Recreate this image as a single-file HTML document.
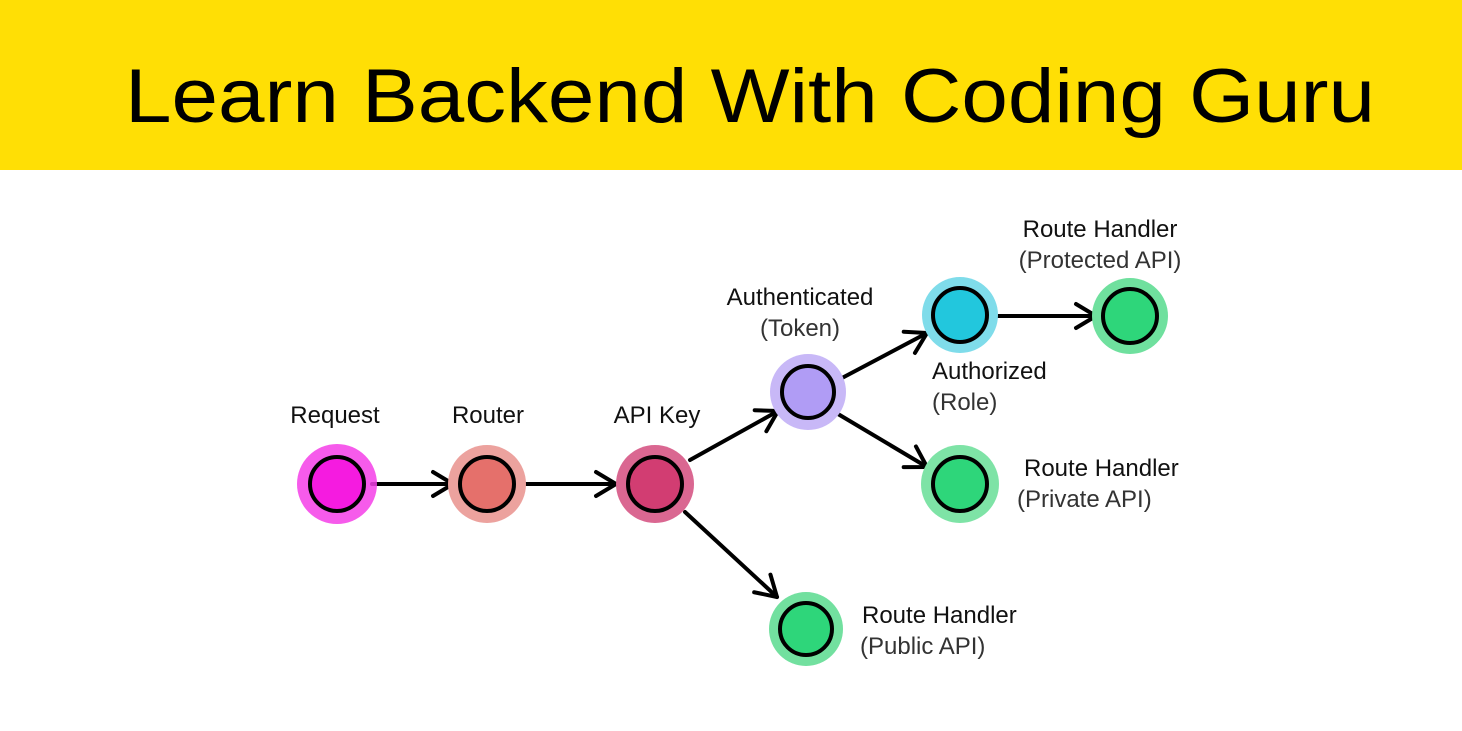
<!DOCTYPE html>
<html><head><style>
html,body{margin:0;padding:0;background:#fff;}
svg{display:block;}
text{font-family:"Liberation Sans",sans-serif;}
</style></head><body>
<svg width="1462" height="731" viewBox="0 0 1462 731" xmlns="http://www.w3.org/2000/svg">
<defs>
<marker id="a" viewBox="0 0 30 30" refX="26" refY="15" markerWidth="30" markerHeight="30" markerUnits="userSpaceOnUse" orient="auto">
<path d="M6,3 L26,15 L6,27" fill="none" stroke="#000" stroke-width="4" stroke-linecap="round" stroke-linejoin="round"/>
</marker>
</defs>
<rect x="0" y="0" width="1462" height="170" fill="#FFDF05"/>
<text x="750" y="122" font-size="76" text-anchor="middle" fill="#000" textLength="1250" lengthAdjust="spacingAndGlyphs">Learn Backend With Coding Guru</text>

<g stroke="#000" stroke-width="4" stroke-linecap="round" fill="none">
<line x1="372" y1="484" x2="453" y2="484" marker-end="url(#a)"/>
<line x1="523" y1="484" x2="616" y2="484" marker-end="url(#a)"/>
<line x1="690" y1="460" x2="778" y2="411" marker-end="url(#a)"/>
<line x1="685" y1="512" x2="777" y2="597" marker-end="url(#a)"/>
<line x1="842" y1="378" x2="927" y2="333" marker-end="url(#a)"/>
<line x1="838" y1="414" x2="927" y2="467" marker-end="url(#a)"/>
<line x1="995" y1="316" x2="1096" y2="316" marker-end="url(#a)"/>
</g>

<g stroke="#000" stroke-width="4">
<circle cx="337" cy="484" r="40" fill="#f53ee8" opacity="0.85" stroke="none"/>
<circle cx="337" cy="484" r="27" fill="#f51be0"/>
<circle cx="487" cy="484" r="39" fill="#eca29e" stroke="none"/>
<circle cx="487" cy="484" r="27" fill="#e5706b"/>
<circle cx="655" cy="484" r="39" fill="#da6791" stroke="none"/>
<circle cx="655" cy="484" r="27" fill="#d23d72"/>
<circle cx="808" cy="392" r="38" fill="#c8b8f7" stroke="none"/>
<circle cx="808" cy="392" r="26" fill="#b09cf5"/>
<circle cx="960" cy="315" r="38" fill="#7fdcea" stroke="none"/>
<circle cx="960" cy="315" r="27" fill="#22c7dd"/>
<circle cx="1130" cy="316" r="38" fill="#6fe09e" stroke="none"/>
<circle cx="1130" cy="316" r="27" fill="#2ed67a"/>
<circle cx="960" cy="484" r="39" fill="#7ee3a6" stroke="none"/>
<circle cx="960" cy="484" r="27" fill="#2ed67a"/>
<circle cx="806" cy="629" r="37" fill="#72e09f" stroke="none"/>
<circle cx="806" cy="629" r="26" fill="#2ed67a"/>
</g>

<g font-size="24" fill="#111">
<text x="335" y="423" text-anchor="middle">Request</text>
<text x="488" y="423" text-anchor="middle">Router</text>
<text x="657" y="423" text-anchor="middle">API Key</text>
<text x="800" y="305" text-anchor="middle">Authenticated</text>
<text x="800" y="336" text-anchor="middle" fill="#333">(Token)</text>
<text x="1100" y="237" text-anchor="middle">Route Handler</text>
<text x="1100" y="268" text-anchor="middle" fill="#333">(Protected API)</text>
<text x="932" y="379">Authorized</text>
<text x="932" y="410" fill="#333">(Role)</text>
<text x="1024" y="476">Route Handler</text>
<text x="1017" y="507" fill="#333">(Private API)</text>
<text x="862" y="623">Route Handler</text>
<text x="860" y="654" fill="#333">(Public API)</text>
</g>
</svg>
</body></html>
